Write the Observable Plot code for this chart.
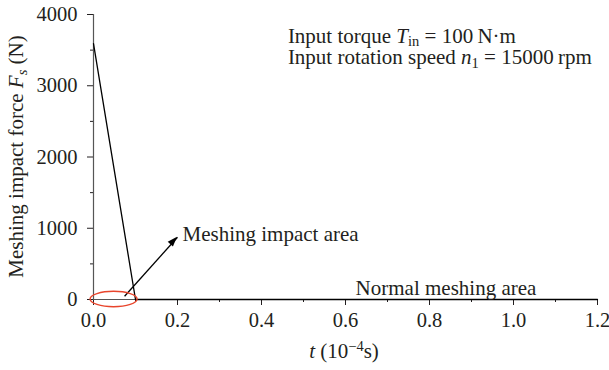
<!DOCTYPE html>
<html>
<head>
<meta charset="utf-8">
<script src="https://cdn.jsdelivr.net/npm/d3@7"></script>
<script src="https://cdn.jsdelivr.net/npm/@observablehq/plot@0.6"></script>
<style>
  html, body { margin: 0; padding: 0; background: #fff; }
</style>
</head>
<body>
<div id="chart"></div>
<script>
// Data
const timeValues = [0, 0.1, 1.2];           // t (10^-4 s)
const forceValues = [3590, 0, 0];           // Fs (N)
const xTicks = [0, 0.2, 0.4, 0.6, 0.8, 1.0, 1.2];
const xMinorTicks = [0.1, 0.3, 0.5, 0.7, 0.9, 1.1];
const yTicks = [0, 1000, 2000, 3000, 4000];
const yMinorTicks = [500, 1500, 2500, 3500];
const impactArea = {t: 0.049, f: 0, rt: 0.056, rf: 108};
const arrowFrom = {t: 0.074, f: 46};
const arrowTo = {t: 0.2, f: 874};
const impactLabel = {t: 0.212, f: 912, text: "Meshing impact area"};
const normalLabel = {t: 0.624, f: 154, text: "Normal meshing area"};
const noteLine1 = {t: 0.464, f: 3691};
const noteLine2 = {t: 0.464, f: 3388};

const data = timeValues.map((t, i) => ({t, F: forceValues[i]}));
const ink = "#231f20";
const serif = '"Liberation Serif", "Times New Roman", Times, "DejaVu Serif", serif';
const labelSize = 21;

const plot = Plot.plot({
  width: 609,
  height: 370,
  marginLeft: 93,
  marginRight: 12,
  marginTop: 14,
  marginBottom: 71,
  x: {domain: [0, 1.2]},
  y: {domain: [0, 4000]},
  style: {fontFamily: serif, fontSize: "20.5px", color: ink, background: "white"},
  marks: [
    Plot.axisX(xTicks, {tickSize: 6, tickPadding: 7, tickFormat: d => d.toFixed(1), label: null, stroke: ink}),
    Plot.axisX(xMinorTicks, {tickSize: 3, text: null, label: null, stroke: ink}),
    Plot.axisY(yTicks, {tickSize: 6, tickPadding: 10, tickFormat: d3.format("d"), label: null, stroke: ink}),
    Plot.axisY(yMinorTicks, {tickSize: 3, text: null, label: null, stroke: ink}),
    Plot.ruleX([0], {stroke: "#555", strokeWidth: 1.2}),
    Plot.ruleY([0], {stroke: "#555", strokeWidth: 1.2}),
    Plot.line(data, {x: "t", y: "F", stroke: "black", strokeWidth: 1.3}),
    Plot.link([arrowFrom], {x1: "t", y1: "f", x2: () => arrowTo.t, y2: () => arrowTo.f, stroke: "black", strokeWidth: 1.3}),
    Plot.text([impactLabel, normalLabel], {x: "t", y: "f", text: "text", textAnchor: "start", fill: ink, fontSize: labelSize, fontFamily: serif})
  ]
});

const sx = plot.scale("x").apply, sy = plot.scale("y").apply;
const svg = d3.select(plot);

// red ellipse marking the impact area
svg.append("ellipse")
  .attr("cx", sx(impactArea.t)).attr("cy", sy(impactArea.f))
  .attr("rx", sx(impactArea.t + impactArea.rt) - sx(impactArea.t))
  .attr("ry", sy(impactArea.f) - sy(impactArea.f + impactArea.rf))
  .attr("fill", "none").attr("stroke", "#e8452c").attr("stroke-width", 1.4);

// filled arrow head
{
  const x1 = sx(arrowFrom.t), y1 = sy(arrowFrom.f), x2 = sx(arrowTo.t), y2 = sy(arrowTo.f);
  const a = Math.atan2(y2 - y1, x2 - x1), L = 10, w = 3.5;
  const bx = x2 - L * Math.cos(a), by = y2 - L * Math.sin(a);
  const px = -Math.sin(a) * w, py = Math.cos(a) * w;
  svg.append("path")
    .attr("d", `M${x2},${y2}L${bx + px},${by + py}L${bx - px},${by - py}Z`)
    .attr("fill", "black");
}

// text with italic / sub / superscript parts; lines = array of part arrays, each with its baseline
function richText(x, lines, opts = {}) {
  const t = svg.append("text").attr("x", x).attr("y", lines[0].y)
    .attr("fill", ink).attr("font-size", labelSize).attr("font-family", serif)
    .attr("text-anchor", opts.anchor || "start");
  if (opts.transform) t.attr("transform", opts.transform);
  lines.forEach((line, li) => {
    let shift = 0;
    line.parts.forEach((p, pi) => {
      const s = t.append("tspan").text(p.text);
      const target = p.sub ? 3.5 : p.sup ? -7 : 0;
      if (li > 0 && pi === 0) { s.attr("x", x).attr("y", line.y + target); shift = target; }
      else if (target !== shift) { s.attr("dy", target - shift); shift = target; }
      if (p.sub || p.sup) s.attr("font-size", 14.5);
      if (p.italic) s.attr("font-style", "italic");
    });
  });
  return t;
}

const mid = 0.32 * labelSize;
richText(sx(noteLine1.t), [
  {y: sy(noteLine1.f) + mid, parts: [
    {text: "Input torque "}, {text: "T", italic: true}, {text: "in", sub: true}, {text: " = 100\u2009N\u00b7m"}]},
  {y: sy(noteLine2.f) + mid, parts: [
    {text: "Input rotation speed "}, {text: "n", italic: true}, {text: "1", sub: true}, {text: " = 15000\u2009rpm"}]}
]);

// axis labels
richText(0, [{y: 0, parts: [
  {text: "Meshing impact force "}, {text: "F", italic: true}, {text: "s", sub: true, italic: true}, {text: " (N)"}
]}], {transform: `translate(23,${(sy(0) + sy(4000)) / 2}) rotate(-90)`, anchor: "middle"});

richText((sx(0) + sx(1.2)) / 2 - 1, [{y: 358, parts: [
  {text: "t", italic: true}, {text: " (10"}, {text: "\u22124", sup: true}, {text: "s)"}
]}], {anchor: "middle"});

document.getElementById("chart").appendChild(plot);
</script>
</body>
</html>
